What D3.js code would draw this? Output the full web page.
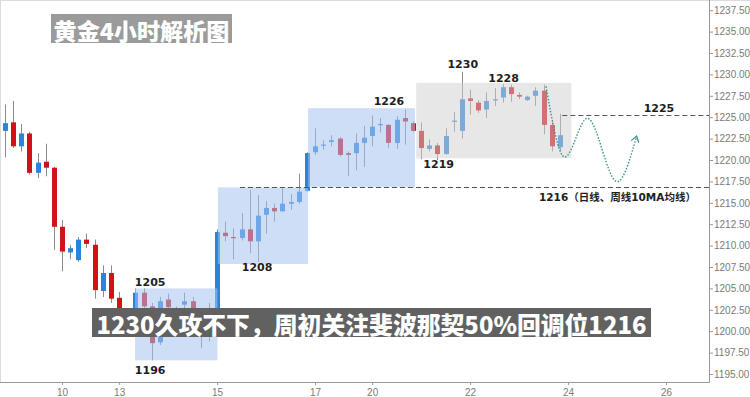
<!DOCTYPE html>
<html>
<head>
<meta charset="utf-8">
<script src="https://cdn.jsdelivr.net/npm/d3@7"></script>
<style>
  body { margin: 0; background: #fff; }
  svg { display: block; font-family: "Liberation Sans", Arial, sans-serif; }
</style>
</head>
<body>
<svg id="chart" width="750" height="397"></svg>
<script>
// 4h gold candles, index 0..68
const opens  = [1223.4,1224.4,1221.6,1223.1,1218.5,1219.8,1219.1,1212.2,1209.2,1208.3,1210.7,1210.1,1204.7,1206.8,1203.9,1201.0,1201.2,1204.5,1202.9,1198.7,1203.7,1201.8,1203.1,1203.5,1199.5,1201.9,1200.6,1211.5,1211.0,1210.9,1211.9,1210.5,1213.6,1214.4,1214.0,1214.9,1215.1,1216.4,1220.9,1221.7,1222.1,1222.5,1220.8,1220.8,1222.0,1222.8,1224.1,1224.1,1222.0,1224.9,1224.3,1223.4,1221.3,1221.7,1220.7,1224.5,1223.4,1227.2,1226.7,1225.9,1227.0,1227.3,1228.5,1227.6,1227.0,1227.5,1228.1,1224.1,1221.5];
const highs  = [1226.5,1226.9,1224.2,1223.3,1220.8,1221.9,1219.2,1213.0,1210.1,1211.0,1211.4,1210.7,1207.7,1207.7,1204.6,1202.5,1205.0,1205.0,1203.3,1204.0,1204.4,1202.9,1204.5,1204.0,1202.4,1203.3,1211.9,1212.8,1212.0,1213.8,1216.5,1215.9,1215.2,1214.9,1216.7,1216.0,1218.4,1220.9,1223.7,1222.3,1222.9,1222.7,1221.0,1223.1,1224.0,1225.2,1224.9,1224.2,1225.1,1225.9,1224.5,1224.4,1222.4,1222.0,1223.7,1225.6,1230.3,1228.2,1227.0,1227.9,1228.4,1228.9,1228.8,1227.9,1227.5,1228.5,1228.8,1224.7,1225.4];
const lows   = [1220.3,1221.4,1221.0,1218.3,1217.9,1218.1,1209.5,1207.0,1208.4,1208.1,1209.7,1203.8,1204.0,1203.3,1200.2,1200.0,1200.6,1202.4,1196.6,1198.4,1201.8,1200.6,1202.0,1201.5,1198.0,1198.8,1200.2,1210.5,1208.4,1210.6,1209.1,1208.1,1211.4,1212.8,1214.0,1214.2,1214.9,1216.3,1220.6,1221.2,1221.6,1220.4,1218.1,1218.8,1219.2,1221.6,1223.2,1221.4,1221.3,1221.8,1223.3,1220.1,1221.0,1220.0,1220.6,1223.3,1222.5,1225.3,1225.5,1224.9,1226.3,1226.7,1226.8,1227.1,1226.9,1226.3,1223.0,1221.0,1221.0];
const closes = [1224.3,1221.6,1223.1,1218.5,1219.7,1219.1,1212.2,1209.3,1209.7,1210.7,1210.2,1204.8,1206.8,1203.8,1201.0,1201.8,1204.5,1202.9,1198.6,1203.5,1202.8,1202.4,1203.5,1202.5,1201.6,1200.8,1211.6,1211.1,1210.9,1211.9,1210.5,1213.5,1214.4,1214.0,1214.9,1215.1,1216.3,1220.8,1221.6,1221.8,1222.3,1220.6,1220.6,1222.0,1222.6,1223.9,1224.2,1222.0,1224.7,1224.5,1223.4,1221.4,1221.7,1220.7,1222.8,1224.6,1227.1,1226.9,1225.8,1226.9,1227.1,1228.5,1227.7,1227.4,1227.4,1228.1,1224.1,1221.6,1222.9];

// x axis: day of month, placed at candle index
const dayLabels = ['10', '13', '15', '17', '20', '22', '24', '26'];
const dayIndex  = [7, 14, 26, 38, 45, 57, 69, 81];

const priceTicks = d3.range(1195, 1237.51, 2.5);

// consolidation zones (candle index span, price span)
const zoneFrom   = [15.95, 26.1, 37.15, 50.4];
const zoneTo     = [26.05, 37.15, 50.25, 69.4];
const zoneTop    = [1205.0, 1216.8, 1226.05, 1229.0];
const zoneBottom = [1196.6, 1207.85, 1216.8, 1220.2];
const zoneKind   = ['swing', 'swing', 'swing', 'range'];

// price annotations (centre of text in index / price units)
const noteText  = ['1205', '1196', '1208', '1226', '1230', '1228', '1219', '1225'];
const noteIndex = [17.8, 17.8, 30.9, 47.06, 56.1, 61.1, 53.15, 80.14];
const notePrice = [1205.67, 1195.39, 1207.46, 1226.89, 1231.21, 1229.54, 1219.42, 1226.04];

// horizontal levels
const levelPrice = [1225.3, 1216.8];
const levelFrom  = [68.3, 28.8];
const maNote = { text: '1216（日线、周线10MA均线）', index: 65.44, price: 1215.71 };

// expected path after the pullback
const waveIndex = [66.3, 68.6, 71.36, 75.03, 77.4];
const wavePrice = [1228.6, 1220.35, 1224.87, 1217.47, 1222.8];

const titleText  = '黄金4小时解析图';
const bannerText = '1230久攻不下，周初关注斐波那契50%回调位1216';

const svg = d3.select('#chart');
const axisX = 709, axisY = 382;

const x = d3.scaleLinear().domain([0, 81]).range([4.87, 666]);
const y = d3.scaleLinear().domain([1195, 1237.5]).range([374, 10.2]);

const candles = opens.map((o, i) => ({ i, o, h: highs[i], l: lows[i], c: closes[i] }));

// frame
svg.append('line').attr('x1', 0).attr('x2', 750).attr('y1', 0.5).attr('y2', 0.5)
  .attr('stroke', '#dcdcdc');
svg.append('line').attr('x1', 0.5).attr('x2', 0.5).attr('y1', 0).attr('y2', axisY)
  .attr('stroke', '#dcdcdc');

// candles
const cg = svg.append('g');
cg.selectAll('line.wick').data(candles).enter().append('line')
  .attr('class', 'wick')
  .attr('x1', d => Math.round(x(d.i)) + 0.5).attr('x2', d => Math.round(x(d.i)) + 0.5)
  .attr('y1', d => y(d.h)).attr('y2', d => y(d.l))
  .attr('stroke', '#8c8c8c').attr('stroke-width', 1);

cg.selectAll('rect.body').data(candles).enter().append('rect')
  .attr('class', 'body')
  .attr('x', d => Math.round(x(d.i)) - 2)
  .attr('width', 5)
  .attr('y', d => y(Math.max(d.o, d.c)))
  .attr('height', d => Math.max(1.2, Math.abs(y(d.o) - y(d.c))))
  .attr('fill', d => d.c >= d.o ? '#2a84dc' : '#d01318');

// zones drawn over candles
const zoneFill = { swing: '#a6c3f0', range: '#cfcfcf' };
const zoneOpacity = { swing: 0.55, range: 0.5 };
svg.append('g').selectAll('rect').data(zoneFrom).enter().append('rect')
  .attr('x', (d, k) => x(d))
  .attr('width', (d, k) => x(zoneTo[k]) - x(d))
  .attr('y', (d, k) => y(zoneTop[k]))
  .attr('height', (d, k) => y(zoneBottom[k]) - y(zoneTop[k]))
  .attr('fill', (d, k) => zoneFill[zoneKind[k]])
  .attr('fill-opacity', (d, k) => zoneOpacity[zoneKind[k]]);

// dashed levels
svg.append('g').selectAll('line').data(levelPrice).enter().append('line')
  .attr('x1', (d, k) => x(levelFrom[k])).attr('x2', axisX)
  .attr('y1', d => Math.round(y(d)) + 0.5).attr('y2', d => Math.round(y(d)) + 0.5)
  .attr('stroke', '#555').attr('stroke-dasharray', '5,3');

// wave
const defs = svg.append('defs');
defs.append('marker').attr('id', 'arr')
  .attr('viewBox', '0 0 10 10').attr('refX', 8).attr('refY', 5)
  .attr('markerWidth', 7).attr('markerHeight', 7).attr('orient', 'auto')
  .append('path').attr('d', 'M2,1 L8,5 L2,9')
  .attr('fill', 'none').attr('stroke', '#3f8f8c').attr('stroke-width', 1.2);

const wavePts = waveIndex.map((v, k) => [x(v), y(wavePrice[k])]);
svg.append('path')
  .attr('d', d3.line().curve(d3.curveMonotoneX)(wavePts))
  .attr('fill', 'none').attr('stroke', '#3f8f8c').attr('stroke-width', 1.4)
  .attr('stroke-dasharray', '1.5,1.6')
  .attr('marker-end', 'url(#arr)');

// annotations
const noteFont = '"DejaVu Sans", Verdana, sans-serif';
svg.append('g').selectAll('text').data(noteText).enter().append('text')
  .attr('x', (d, k) => x(noteIndex[k]))
  .attr('y', (d, k) => y(notePrice[k]))
  .attr('text-anchor', 'middle').attr('dominant-baseline', 'central')
  .style('font-family', noteFont).style('font-weight', 'bold').style('font-size', '11px')
  .attr('fill', '#1e1e1e').text(d => d);

svg.append('text')
  .attr('x', x(maNote.index)).attr('y', y(maNote.price))
  .attr('dominant-baseline', 'central')
  .style('font-family', noteFont + ', "Noto Sans CJK SC"').style('font-weight', 'bold').style('font-size', '10.5px')
  .attr('fill', '#1e1e1e').text(maNote.text);

// axes
const yAxis = svg.append('g').attr('transform', `translate(${axisX},0)`)
  .call(d3.axisRight(y).tickValues(priceTicks).tickFormat(d3.format('.2f')).tickSize(4).tickPadding(1));
yAxis.select('.domain').remove();
yAxis.selectAll('line').attr('stroke', '#999');
yAxis.selectAll('text').attr('fill', '#7a7a7a').style('font-size', '10px');

const xAxis = svg.append('g').attr('transform', `translate(0,${axisY})`)
  .call(d3.axisBottom(x).tickValues(dayIndex).tickFormat((d, k) => dayLabels[k]).tickSize(3).tickPadding(4));
xAxis.select('.domain').remove();
xAxis.selectAll('line').attr('stroke', '#999');
xAxis.selectAll('text').attr('fill', '#7a7a7a').style('font-size', '10px');

svg.append('line').attr('x1', axisX + 0.5).attr('x2', axisX + 0.5).attr('y1', 0).attr('y2', axisY + 0.5)
  .attr('stroke', '#999');
svg.append('line').attr('x1', 0).attr('x2', axisX + 0.5).attr('y1', axisY + 0.5).attr('y2', axisY + 0.5)
  .attr('stroke', '#999');

// banners
function banner(text, bx, by, bw, bh, fill, textW, size) {
  svg.append('rect').attr('x', bx).attr('y', by).attr('width', bw).attr('height', bh).attr('fill', fill);
  const t = svg.append('text')
    .attr('x', bx + bw / 2).attr('y', by + bh / 2 + 1)
    .attr('text-anchor', 'middle').attr('dominant-baseline', 'central')
    .style('font-family', '"Noto Sans CJK SC", sans-serif').style('font-weight', '900')
    .style('font-size', size + 'px').attr('fill', '#fff').text(text);
  const w = t.node().getComputedTextLength();
  if (w > 0) t.style('font-size', (size * textW / w) + 'px');
}
banner(titleText, 51, 14, 181, 29, '#9b9b9b', 176, 23);
banner(bannerText, 92, 308, 559, 29, '#616161', 550, 25);
</script>
</body>
</html>
